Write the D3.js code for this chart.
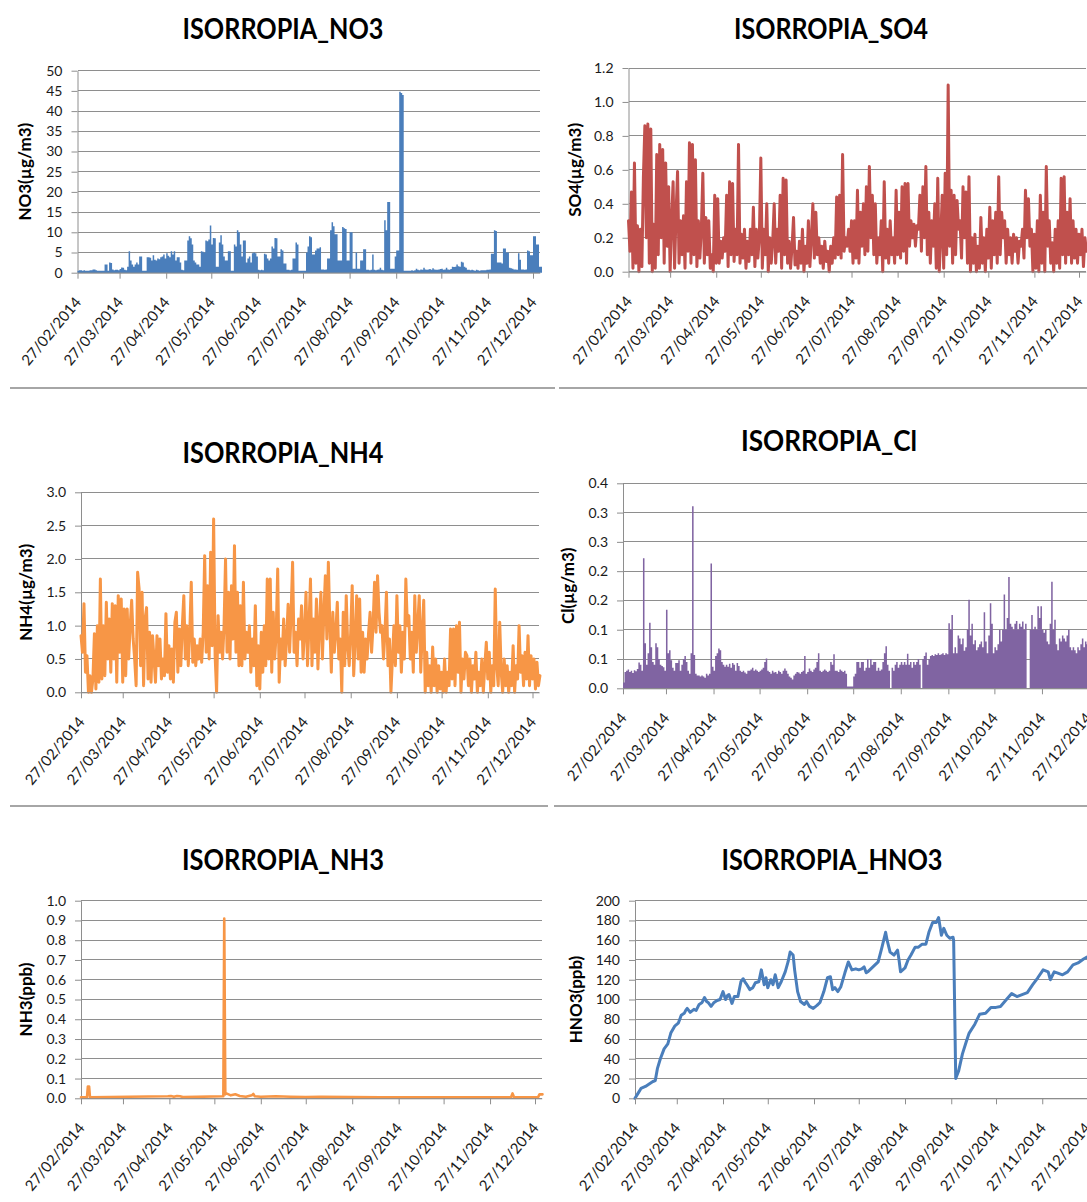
<!DOCTYPE html>
<html><head><meta charset="utf-8">
<script src="https://cdn.jsdelivr.net/npm/d3@7"></script>
<style>body{margin:0;background:#fff}svg{display:block}</style>
</head><body>
<svg id="chart" width="1087" height="1202"></svg>
<script>
// ---------- data ----------
const seriesStart = "2014-02-27"; // first daily value
const axisEnd = "2014-12-31T12:00:00Z";
const monthTicks = ["2014-02-27","2014-03-27","2014-04-27","2014-05-27","2014-06-27","2014-07-27","2014-08-27","2014-09-27","2014-10-27","2014-11-27","2014-12-27"];
const monthTickLabels = ["27/02/2014","27/03/2014","27/04/2014","27/05/2014","27/06/2014","27/07/2014","27/08/2014","27/09/2014","27/10/2014","27/11/2014","27/12/2014"];

// daily values from 27/02/2014
const no3Values = [
0.5,0.6,0.6,0.5,0.6,0.5,0.5,0.5,0.6,0.6,
0.8,0.8,0.6,0.5,0.5,0.5,0.5,0.5,2.0,2.0,
0.5,2.5,2.4,0.8,0.6,0.7,0.7,0.6,0.9,1.3,
1.2,0.7,0.6,1.5,5.3,3.0,2.0,1.5,2.0,2.5,
2.0,4.0,4.0,0.5,0.5,0.5,3.8,3.8,3.7,3.0,
4.3,3.2,3.0,3.5,3.3,3.8,4.0,4.5,3.5,4.8,
4.2,3.8,5.3,4.5,5.3,3.0,3.8,3.8,2.5,0.7,
0.6,3.0,3.0,8.0,9.0,8.5,7.0,3.0,2.5,2.0,
2.0,1.5,5.3,5.2,5.0,8.0,7.8,8.2,11.7,7.0,
8.6,8.5,1.5,1.5,7.5,9.3,7.0,4.0,3.0,3.0,
5.3,5.3,0.5,0.5,7.0,6.5,10.5,10.0,7.0,4.0,
8.0,8.0,2.5,3.5,4.0,2.5,4.8,5.0,4.8,4.0,
0.7,0.6,0.7,0.6,4.7,4.5,3.5,3.0,3.5,6.5,
6.0,8.6,8.5,4.0,4.0,5.8,5.5,2.3,2.3,0.7,
0.7,0.6,0.7,3.5,3.5,7.5,7.0,0.5,0.5,0.5,
0.5,0.5,5.0,6.5,9.0,8.8,4.5,4.5,5.5,6.0,
6.0,6.3,0.8,0.8,0.7,0.8,3.5,3.5,10.5,12.5,
11.5,9.5,9.5,3.0,3.0,3.0,11.3,11.0,10.8,3.0,
3.0,10.0,10.0,1.0,1.0,5.0,1.0,1.0,3.0,3.0,
5.8,5.8,0.7,0.7,0.6,0.7,4.5,0.7,0.6,0.7,
0.8,1.2,0.7,0.6,13.0,10.5,17.5,17.5,1.0,1.0,
1.0,4.0,5.5,5.5,44.8,44.5,44.0,0.5,0.5,0.5,
0.5,0.5,0.6,0.5,0.6,1.0,0.7,0.6,0.8,0.7,
1.2,0.8,0.7,0.8,0.9,0.7,1.1,0.8,0.7,0.7,
0.8,0.9,1.0,0.7,0.8,1.2,0.8,0.7,0.9,1.5,
1.4,1.5,2.0,1.6,1.5,2.7,2.5,1.5,1.2,0.7,
0.7,0.6,0.7,0.6,0.5,0.7,0.6,0.5,0.6,0.6,
0.6,0.6,0.7,0.7,0.8,4.7,4.7,10.5,10.3,2.5,
2.5,2.5,2.3,6.0,6.0,5.0,5.0,1.2,1.1,1.0,
0.8,0.8,0.7,4.8,3.2,0.8,0.8,0.7,0.8,5.5,
5.3,4.3,4.3,9.0,9.0,7.0,7.0,1.5,1.5];

const so4Values = [
0.30,0.12,0.47,0.02,0.64,0.05,0.27,0.00,0.25,0.03,
0.55,0.86,0.20,0.87,0.05,0.84,0.00,0.28,0.02,0.69,
0.10,0.75,0.20,0.72,0.05,0.64,0.15,0.50,0.00,0.30,
0.53,0.02,0.35,0.59,0.05,0.30,0.10,0.33,0.02,0.53,
0.12,0.76,0.05,0.75,0.10,0.66,0.03,0.30,0.08,0.25,
0.58,0.05,0.32,0.10,0.30,0.02,0.10,0.00,0.45,0.05,
0.43,0.05,0.18,0.08,0.20,0.12,0.45,0.03,0.53,0.10,
0.52,0.06,0.25,0.10,0.75,0.05,0.22,0.08,0.25,0.02,
0.18,0.06,0.25,0.10,0.38,0.03,0.25,0.08,0.20,0.67,
0.02,0.25,0.10,0.40,0.00,0.20,0.05,0.18,0.40,0.05,
0.25,0.12,0.45,0.02,0.55,0.10,0.54,0.05,0.18,0.02,
0.15,0.32,0.04,0.12,0.02,0.18,0.05,0.25,0.00,0.15,
0.05,0.30,0.03,0.20,0.40,0.08,0.35,0.10,0.20,0.05,
0.15,0.02,0.18,0.06,0.12,0.00,0.15,0.05,0.20,0.08,
0.44,0.10,0.45,0.08,0.69,0.12,0.20,0.15,0.25,0.12,
0.30,0.05,0.30,0.08,0.48,0.05,0.35,0.15,0.40,0.10,
0.50,0.12,0.62,0.20,0.45,0.10,0.40,0.05,0.20,0.10,
0.30,0.00,0.53,0.08,0.25,0.05,0.30,0.10,0.20,0.05,
0.48,0.10,0.35,0.08,0.50,0.12,0.52,0.05,0.52,0.15,
0.30,0.20,0.28,0.15,0.27,0.25,0.45,0.12,0.50,0.20,
0.62,0.10,0.35,0.05,0.30,0.15,0.40,0.02,0.55,0.00,
0.20,0.45,0.02,0.58,0.10,1.10,0.15,0.48,0.05,0.45,
0.10,0.42,0.25,0.30,0.08,0.50,0.20,0.47,0.05,0.56,
0.00,0.20,0.05,0.22,0.00,0.15,0.02,0.32,0.05,0.20,
0.00,0.25,0.08,0.38,0.02,0.30,0.10,0.35,0.05,0.56,
0.10,0.35,0.20,0.30,0.05,0.25,0.10,0.20,0.05,0.22,
0.12,0.20,0.05,0.18,0.15,0.25,0.08,0.48,0.20,0.43,
0.15,0.25,0.00,0.22,0.02,0.30,0.00,0.45,0.05,0.35,
0.00,0.62,0.15,0.30,0.05,0.17,0.00,0.25,0.05,0.30,
0.02,0.55,0.10,0.56,0.05,0.35,0.10,0.43,0.05,0.30,
0.08,0.25,0.05,0.22,0.10,0.25,0.03,0.20,0.12];

const nh4Values = [
0.85,0.60,1.33,0.30,0.55,0.00,0.25,0.00,0.20,0.88,
0.05,1.00,0.15,1.70,0.20,1.00,0.25,1.35,0.50,1.10,
0.30,1.33,0.50,1.30,0.15,1.45,0.60,1.40,0.15,1.25,
0.25,1.25,0.50,1.00,1.38,0.80,0.50,0.10,1.80,1.55,
0.40,1.50,0.10,1.10,1.27,0.20,0.90,0.15,0.85,0.50,
0.15,0.85,0.40,0.80,0.20,0.50,0.25,1.18,0.30,0.70,
0.20,0.65,0.15,1.05,1.20,0.30,0.95,0.40,1.00,1.45,
0.50,1.00,0.40,0.90,1.65,0.45,0.80,0.40,0.70,0.50,
0.80,0.45,0.90,2.05,0.60,1.60,0.50,2.10,0.70,2.60,
0.55,0.00,1.15,0.60,0.90,0.50,1.00,2.00,0.60,1.50,
0.50,1.60,0.80,2.20,0.60,1.50,0.40,1.30,0.40,1.65,
0.50,0.90,0.60,1.00,0.30,0.80,0.40,1.30,0.10,0.70,
0.05,0.90,0.30,1.00,0.40,1.70,0.50,1.70,0.30,1.20,
0.50,0.90,1.85,0.15,0.80,0.50,1.10,0.40,0.80,1.32,
0.60,1.20,1.95,0.60,0.90,0.40,1.10,0.80,1.30,0.50,
0.90,1.50,0.40,1.00,1.70,0.40,1.10,0.60,1.40,0.35,
1.00,1.50,0.50,1.20,1.75,0.80,1.95,1.00,0.30,1.20,
0.60,0.90,1.35,0.50,0.80,0.00,1.20,0.40,1.45,0.70,
0.40,0.90,1.60,0.25,0.80,1.45,0.50,1.40,0.30,0.90,
0.30,0.80,0.50,0.90,1.20,0.60,1.00,1.65,0.90,1.75,
1.20,0.90,1.00,0.50,0.90,1.50,0.40,0.80,0.00,0.50,
1.00,0.40,1.45,0.60,1.00,0.30,0.90,0.50,1.70,1.00,
1.15,0.50,0.90,0.30,1.45,0.60,1.00,1.45,0.30,0.90,
1.38,0.00,0.60,0.10,0.40,0.00,0.68,0.10,0.50,0.00,
0.40,0.05,0.30,0.00,0.50,0.00,0.30,0.10,0.95,0.20,
0.95,0.10,1.00,0.30,1.05,0.00,0.50,0.20,0.60,0.55,
0.10,0.50,0.00,0.40,0.20,0.60,0.00,0.30,0.10,0.50,
0.00,0.40,0.75,0.20,0.60,0.00,0.40,0.10,1.55,0.40,
0.10,1.05,0.30,0.00,0.50,0.10,0.40,0.00,0.30,0.10,
0.70,0.00,0.40,0.20,1.00,0.30,0.55,0.10,0.60,0.20,
0.85,0.10,0.55,0.20,0.50,0.05,0.45,0.10,0.25];

const clValues = [
0.010,0.028,0.030,0.032,0.028,0.030,0.026,0.031,0.029,0.033,
0.044,0.040,0.030,0.222,0.077,0.040,0.060,0.112,0.070,0.045,
0.040,0.077,0.070,0.050,0.040,0.038,0.036,0.030,0.134,0.060,
0.065,0.048,0.035,0.030,0.043,0.043,0.048,0.030,0.040,0.050,
0.055,0.045,0.030,0.025,0.060,0.311,0.057,0.025,0.022,0.022,
0.020,0.022,0.020,0.018,0.025,0.022,0.025,0.213,0.037,0.030,
0.055,0.060,0.068,0.065,0.045,0.040,0.037,0.040,0.037,0.042,
0.035,0.043,0.040,0.030,0.043,0.038,0.030,0.028,0.030,0.027,
0.025,0.030,0.030,0.032,0.035,0.030,0.032,0.030,0.028,0.030,
0.032,0.035,0.045,0.051,0.030,0.028,0.025,0.030,0.027,0.028,
0.025,0.030,0.028,0.025,0.030,0.034,0.030,0.025,0.020,0.018,
0.015,0.022,0.025,0.028,0.027,0.025,0.028,0.030,0.055,0.025,
0.028,0.034,0.030,0.028,0.032,0.035,0.045,0.060,0.030,0.028,
0.030,0.032,0.030,0.028,0.030,0.045,0.040,0.058,0.030,0.030,
0.028,0.032,0.030,0.028,0.030,0.025,0.003,0.003,0.003,0.003,
0.020,0.025,0.045,0.045,0.035,0.045,0.045,0.030,0.035,0.050,
0.035,0.050,0.040,0.045,0.045,0.030,0.035,0.030,0.032,0.045,
0.060,0.072,0.040,0.030,0.000,0.035,0.030,0.040,0.045,0.035,
0.040,0.045,0.040,0.045,0.040,0.059,0.040,0.045,0.035,0.045,
0.040,0.045,0.050,0.040,0.000,0.050,0.055,0.061,0.040,0.050,
0.055,0.057,0.055,0.058,0.057,0.060,0.057,0.058,0.060,0.057,
0.060,0.058,0.111,0.100,0.125,0.060,0.070,0.060,0.090,0.085,
0.075,0.085,0.064,0.070,0.100,0.151,0.090,0.110,0.075,0.082,
0.065,0.070,0.075,0.080,0.070,0.130,0.080,0.060,0.090,0.145,
0.110,0.060,0.070,0.065,0.075,0.100,0.080,0.100,0.160,0.100,
0.120,0.190,0.110,0.105,0.100,0.110,0.115,0.100,0.110,0.105,
0.114,0.100,0.110,0.000,0.000,0.100,0.125,0.100,0.105,0.100,
0.140,0.120,0.140,0.100,0.095,0.100,0.080,0.075,0.110,0.182,
0.100,0.117,0.075,0.065,0.085,0.080,0.090,0.085,0.080,0.090,
0.100,0.070,0.065,0.070,0.065,0.060,0.070,0.065,0.075,0.085,
0.070,0.080,0.075,0.080,0.070,0.085,0.080,0.075,0.080];

// irregular samples: day offset from 27/02/2014
const nh3Days = [0,4,4.6,5.4,6,58,60,62,64,66,68,95,95.6,96.3,97,100,103,106,110,114,115,116,120,130,140,150,160,180,200,220,240,260,280,287,288,289,300,305,306,308];
const nh3Values = [0.005,0.005,0.06,0.06,0.005,0.01,0.012,0.008,0.012,0.01,0.006,0.01,0.91,0.02,0.025,0.015,0.02,0.012,0.008,0.015,0.022,0.01,0.008,0.01,0.008,0.006,0.008,0.006,0.005,0.005,0.005,0.005,0.005,0.005,0.025,0.005,0.005,0.005,0.02,0.02];

const hno3Days = [0,2,4,7,9,12,13.6,15,17,19.5,22,24,26.6,29,31,33,34,35,37,39.5,41,43,45,46.6,48,49,51,53,55,57,59,60.7,62,63,65,66.6,69,71,72.5,74,75,77,79,80.7,83,84.7,86.6,87.8,89,91,92.5,94,96,98,100.7,102.6,104,106,107,109,111,113.6,115,117,119.5,122,124,126.6,129,131,132.5,134,136,138,140.7,143,145.4,148,150,152,153.6,155,156,159.5,163,165.4,168,169,171,173.6,176,177,178,181,183,185,187.8,190,192.5,195,197,199.5,202,203.5,205.4,207,209,211,213.2,213.6,214.2,215,217,219.5,222,224,227.8,231,235,238.6,242,245,249,252.5,256,259.5,263,266.6,270,273.6,277,278.4,281,283,286.6,290,293.6,297,300.7,303,305,308];
const hno3Values = [0,5,10,12,14,17,18,30,40,50,55,66,73,76,84,86,89,91,87,90,89,95,97,102,98,97,93,97,99,100,108,100,104,105,96,103,103,118,121,117,115,110,112,117,118,130,115,122,112,120,115,125,112,118,128,138,148,145,130,108,98,95,98,93,91,94,97,108,122,123,110,112,108,113,127,138,130,131,130,131,133,127,128,133,138,152,168,160,148,145,150,140,128,132,140,145,153,153,156,156,168,178,178,183,165,172,165,162,163,160,100,20,28,45,57,66,75,85,86,92,92,93,100,106,103,105,107,115,122,130,128,120,128,127,125,128,135,137,141,143,140,142];

const no3Ticks = [0,5,10,15,20,25,30,35,40,45,50];
const no3TickLabels = ["0","5","10","15","20","25","30","35","40","45","50"];
const so4Ticks = [0,0.2,0.4,0.6,0.8,1.0,1.2];
const so4TickLabels = ["0.0","0.2","0.4","0.6","0.8","1.0","1.2"];
const nh4Ticks = [0,0.5,1.0,1.5,2.0,2.5,3.0];
const nh4TickLabels = ["0.0","0.5","1.0","1.5","2.0","2.5","3.0"];
const clTicks = [0,0.05,0.10,0.15,0.20,0.25,0.30,0.35];
const clTickLabels = ["0.0","0.1","0.1","0.2","0.2","0.3","0.3","0.4"];
const nh3Ticks = [0,0.1,0.2,0.3,0.4,0.5,0.6,0.7,0.8,0.9,1.0];
const nh3TickLabels = ["0.0","0.1","0.2","0.3","0.4","0.5","0.6","0.7","0.8","0.9","1.0"];
const hno3Ticks = [0,20,40,60,80,100,120,140,160,180,200];
const hno3TickLabels = ["0","20","40","60","80","100","120","140","160","180","200"];

// ---------- layout ----------
const DAY = 864e5;
const t0 = new Date(seriesStart + "T00:00:00Z");
const tAt = d => new Date(t0.getTime() + d * DAY);
const daily = vals => vals.map((v, i) => ({t: tAt(i), v}));
const dailyStep = vals => daily(vals).concat([{t: tAt(vals.length), v: vals[vals.length - 1]}]);
const irregular = (days, vals) => days.map((d, i) => ({t: tAt(d), v: vals[i]}));

const panels = [
  {title:"ISORROPIA_NO3", tw:201, tx:283, ty:39, ylab:"NO3(µg/m3)", lx:25, x0:77.5, x1:533, yTop:70.7, yBot:272.7,
   ticks:no3Ticks, labels:no3TickLabels, kind:"area", color:"#4A7EBB", data:dailyStep(no3Values)},
  {title:"ISORROPIA_SO4", tw:194, tx:831, ty:38.5, ylab:"SO4(µg/m3)", lx:575, x0:628.5, x1:1079, yTop:68, yBot:271.7,
   ticks:so4Ticks, labels:so4TickLabels, kind:"line", color:"#C0504D", width:3, data:daily(so4Values)},
  {title:"ISORROPIA_NH4", tw:201, tx:283, ty:463, ylab:"NH4(µg/m3)", lx:26, x0:81, x1:532.5, yTop:492.3, yBot:692.3,
   ticks:nh4Ticks, labels:nh4TickLabels, kind:"line", color:"#F79646", width:3, data:daily(nh4Values)},
  {title:"ISORROPIA_Cl", tw:176, tx:829, ty:451, ylab:"Cl(µg/m3)", lx:568, x0:623, x1:1088, yTop:483.3, yBot:688.3,
   ticks:clTicks, labels:clTickLabels, kind:"area", color:"#8064A2", data:dailyStep(clValues)},
  {title:"ISORROPIA_NH3", tw:202, tx:283, ty:870, ylab:"NH3(ppb)", lx:26, x0:81, x1:535, yTop:900.7, yBot:1098.3,
   ticks:nh3Ticks, labels:nh3TickLabels, kind:"line", color:"#F79646", width:2.6, data:irregular(nh3Days, nh3Values)},
  {title:"ISORROPIA_HNO3", tw:221, tx:832, ty:870, ylab:"HNO3(ppb)", lx:576, x0:635, x1:1087, yTop:900.7, yBot:1098.3,
   ticks:hno3Ticks, labels:hno3TickLabels, kind:"line", color:"#4A7EBB", width:3, data:irregular(hno3Days, hno3Values)}
];

const svg = d3.select("#chart");
const FONT = "Lato, 'Open Sans', sans-serif";
const GRID = "#8e8e8e";
const monthDates = monthTicks.map(s => new Date(s + "T00:00:00Z"));
const tEnd = new Date(axisEnd);

// separators
[[10,555,388],[559,1087,388],[10,548,806],[554,1087,806]].forEach(([a,b,yy]) => {
  svg.append("line").attr("x1",a).attr("x2",b).attr("y1",yy).attr("y2",yy)
    .attr("stroke","#a6a6a6").attr("stroke-width",2);
});

panels.forEach(p => {
  const g = svg.append("g");
  const xBase = d3.scaleUtc().domain([monthDates[0], monthDates[monthDates.length-1]]).range([p.x0, p.x1]);
  const xEnd = xBase(tEnd);
  const x = d3.scaleUtc().domain([monthDates[0], tEnd]).range([p.x0, xEnd]);
  const y = d3.scaleLinear().domain([p.ticks[0], p.ticks[p.ticks.length-1]]).range([p.yBot, p.yTop]);

  // title
  g.append("text").attr("x",p.tx).attr("y",p.ty).attr("text-anchor","middle")
    .attr("font-family",FONT).attr("font-weight","bold").attr("font-size",28)
    .attr("textLength",p.tw).attr("lengthAdjust","spacingAndGlyphs")
    .attr("fill","#000").text(p.title);

  // y label
  g.append("text").attr("transform",`translate(${p.lx},${(p.yTop+p.yBot)/2}) rotate(-90)`)
    .attr("text-anchor","middle").attr("dy","0.35em")
    .attr("font-family",FONT).attr("font-weight","bold").attr("font-size",17)
    .attr("fill","#000").text(p.ylab);

  // gridlines
  g.append("g").selectAll("line").data(p.ticks).join("line")
    .attr("x1",p.x0).attr("x2",xEnd).attr("y1",d=>y(d)).attr("y2",d=>y(d))
    .attr("stroke",GRID).attr("stroke-width",1).attr("shape-rendering","crispEdges");

  // y axis
  const ya = g.append("g").attr("transform",`translate(${p.x0},0)`)
    .call(d3.axisLeft(y).tickValues(p.ticks).tickFormat((d,i)=>p.labels[i]).tickSize(6).tickSizeOuter(0).tickPadding(9));
  ya.select(".domain").attr("stroke",GRID);
  ya.selectAll(".tick line").attr("stroke",GRID);
  ya.selectAll("text").attr("font-family",FONT).attr("font-size",14).attr("fill","#1a1a1a");

  // series
  if (p.kind === "area") {
    g.append("path").datum(p.data)
      .attr("d", d3.area().curve(d3.curveStepAfter).x(d=>x(d.t)).y0(y(0)).y1(d=>y(d.v)))
      .attr("fill",p.color);
  } else {
    g.append("path").datum(p.data)
      .attr("d", d3.line().x(d=>x(d.t)).y(d=>y(d.v)))
      .attr("fill","none").attr("stroke",p.color).attr("stroke-width",p.width)
      .attr("stroke-linejoin","round").attr("stroke-linecap","round");
  }

  // x axis
  const xa = g.append("g").attr("transform",`translate(0,${p.yBot})`)
    .call(d3.axisBottom(x).tickValues(monthDates).tickFormat((d,i)=>monthTickLabels[i]).tickSize(6).tickSizeOuter(0));
  xa.select(".domain").attr("stroke",GRID);
  xa.selectAll(".tick line").attr("stroke",GRID);
  xa.selectAll("text").attr("font-family",FONT).attr("font-size",15).attr("fill","#1a1a1a")
    .attr("x",0).attr("y",0).attr("dy",0).attr("text-anchor","end")
    .attr("transform","translate(4,30) rotate(-50)");
});
</script>
</body></html>
